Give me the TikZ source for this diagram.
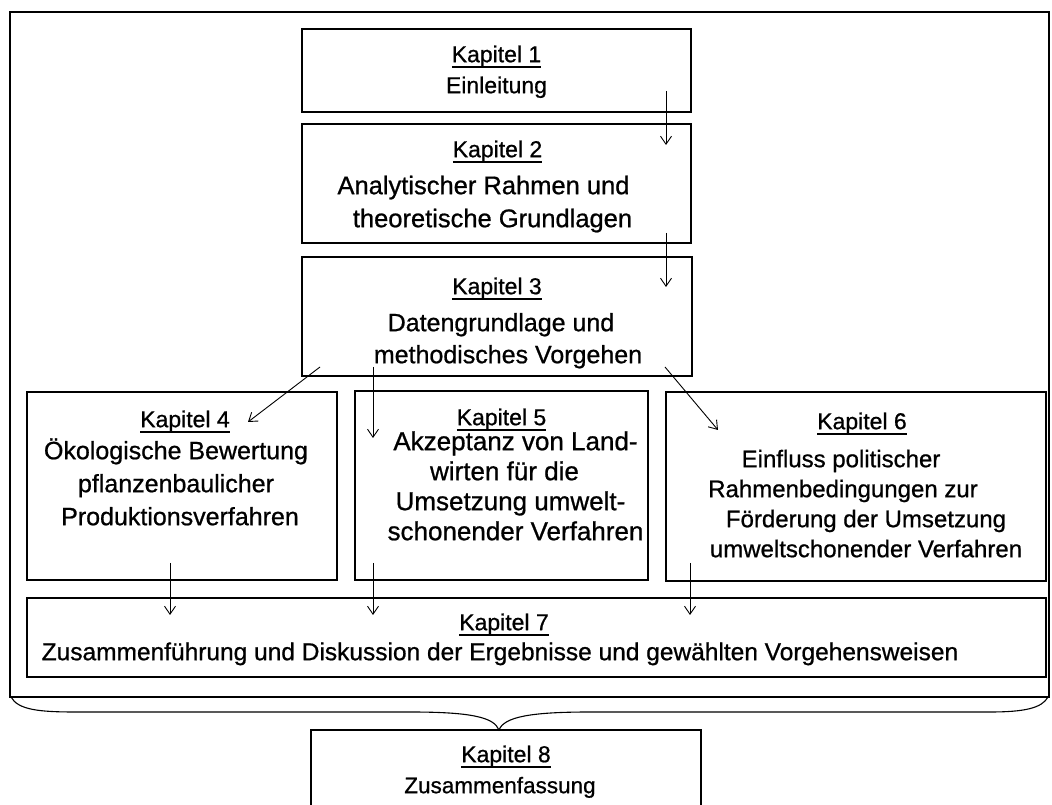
\documentclass[tikz,border=0pt]{standalone}
\usepackage{fontspec}
\setmainfont{Liberation Sans}[FakeBold=0.8]
\usetikzlibrary{arrows.meta}

% underlined chapter heading with a rule placed like a word-processor underline
\newsavebox\kapbox
\newcommand\kaphead[1]{{\fontsize{23}{23}\selectfont
  \sbox\kapbox{#1}\rlap{\rule[-5.5pt]{\wd\kapbox}{1.6pt}}\usebox\kapbox}}
% a line whose ink is moved sideways by #1 without changing its width
\newcommand\sline[2]{\hbox{\kern#1\relax\hbox{#2}\kern-#1\relax}}
% fixes the height of the first line so the node top is a known distance above its baseline
\newcommand\topstrut{\rule{0pt}{20pt}}

\tikzset{
  chapbox/.style={draw, line width=1.5pt, inner sep=0pt, outer sep=0pt, anchor=north west},
  chaptext/.style={anchor=north, inner sep=0pt, align=center},
  flow/.style={line width=0.9pt, -{Straight Barb[length=8pt,width=11pt,line width=0.9pt]}},
  frame/.style={draw, line width=1.5pt, inner sep=0pt, outer sep=0pt, anchor=north west},
}

\begin{document}
\begin{tikzpicture}[x=1pt,y=1pt]
\useasboundingbox (0,0) rectangle (1052,805);
\clip (0,0) rectangle (1052,805);

% outer frame around chapters 1 to 7
\node[frame, minimum width=1039pt, minimum height=685pt] (outer) at (10,793) {};

% chapter boxes
\node[chapbox, minimum width=389pt, minimum height=83pt]  (b1) at (302,776) {};
\node[chapbox, minimum width=389pt, minimum height=119pt] (b2) at (302,681) {};
\node[chapbox, minimum width=390pt, minimum height=119pt] (b3) at (302,548) {};
\node[chapbox, minimum width=310pt, minimum height=188pt] (b4) at (27,413) {};
\node[chapbox, minimum width=293pt, minimum height=189pt] (b5) at (355,414) {};
\node[chapbox, minimum width=380pt, minimum height=189pt] (b6) at (666,413) {};
\node[chapbox, minimum width=1019pt, minimum height=79pt] (b7) at (27,207) {};
\node[chapbox, minimum width=390pt, minimum height=140pt] (b8) at (311,75) {};

% chapter titles
\node[chaptext, font=\fontsize{23}{31}\selectfont] (t1) at ([yshift=-13pt]b1.north)
  {\topstrut\kaphead{Kapitel 1}\\Einleitung};
\node[chaptext, font=\fontsize{25.5}{33}\selectfont] (t2) at ([yshift=-13pt]b2.north)
  {\topstrut\sline{1pt}{\kaphead{Kapitel 2}}\\[4pt]
   \sline{-13pt}{Analytischer Rahmen und}\\
   \sline{-4pt}{theoretische Grundlagen}};
\node[chaptext, font=\fontsize{25}{32}\selectfont] (t3) at ([yshift=-17pt]b3.north)
  {\topstrut\kaphead{Kapitel 3}\\[5pt]
   \sline{4pt}{Datengrundlage und}\\
   \sline{11pt}{methodisches Vorgehen}};
\node[chaptext, font=\fontsize{25}{33}\selectfont] (t4) at ([yshift=-15pt]b4.north)
  {\topstrut\sline{3pt}{\kaphead{Kapitel 4}}\\[-1pt]
   \sline{-6pt}{Ökologische Bewertung}\\
   \sline{-6pt}{pflanzenbaulicher}\\
   \sline{-2pt}{Produktionsverfahren}};
\node[chaptext, font=\fontsize{26}{30}\selectfont] (t5) at ([yshift=-14pt]b5.north)
  {\topstrut\kaphead{Kapitel 5}\\[-5pt]
   \sline{14pt}{Akzeptanz von Land-}\\
   \sline{3pt}{wirten für die}\\
   \sline{9pt}{Umsetzung umwelt-}\\
   \sline{14pt}{schonender Verfahren}};
\node[chaptext, font=\fontsize{24}{30}\selectfont] (t6) at ([yshift=-17pt]b6.north)
  {\topstrut\sline{6pt}{\kaphead{Kapitel 6}}\\[8pt]
   \sline{-15pt}{Einfluss politischer}\\
   \sline{-13pt}{Rahmenbedingungen zur}\\
   \sline{10pt}{Förderung der Umsetzung}\\
   \sline{10pt}{umweltschonender Verfahren}};
\node[chaptext, font=\fontsize{24.5}{30}\selectfont] (t7) at ([yshift=-12pt]b7.north)
  {\topstrut\sline{-32.5pt}{\kaphead{Kapitel 7}}\\
   \sline{-36.5pt}{Zusammenführung und Diskussion der Ergebnisse und gewählten Vorgehensweisen}};
\node[chaptext, font=\fontsize{22.5}{31}\selectfont] (t8) at ([yshift=-12pt]b8.north)
  {\topstrut\kaphead{Kapitel 8}\\\sline{-6pt}{Zusammenfassung}};

% arrow end points inside the boxes
\coordinate (a12s) at ([shift={(-25,21)}]b1.south east);
\coordinate (a12e) at ([shift={(-25,-21)}]b2.north east);
\coordinate (a23s) at ([shift={(-25,10)}]b2.south east);
\coordinate (a23e) at ([shift={(-26,-30)}]b3.north east);
\coordinate (a34s) at ([shift={(18,9)}]b3.south west);
\coordinate (a34e) at ([shift={(221,-30)}]b4.north west);
\coordinate (a35s) at ([shift={(71,9)}]b3.south west);
\coordinate (a35e) at ([shift={(18,-47)}]b5.north west);
\coordinate (a36s) at ([shift={(-27,9)}]b3.south east);
\coordinate (a36e) at ([shift={(52,-38)}]b6.north west);
\coordinate (a47s) at ([shift={(143,17)}]b4.south west);
\coordinate (a47e) at ([shift={(143,-17)}]b7.north west);
\coordinate (a57s) at ([shift={(18,17)}]b5.south west);
\coordinate (a57e) at ([shift={(346,-17)}]b7.north west);
\coordinate (a67s) at ([shift={(24,18)}]b6.south west);
\coordinate (a67e) at ([shift={(663,-17)}]b7.north west);

\draw[flow] (a12s) -- (a12e);
\draw[flow] (a23s) -- (a23e);
\draw[flow] (a34s) -- (a34e);
\draw[flow] (a35s) -- (a35e);
\draw[flow] (a36s) -- (a36e);
\draw[flow] (a47s) -- (a47e);
\draw[flow] (a57s) -- (a57e);
\draw[flow] (a67s) -- (a67e);

% curly brace gathering everything into chapter 8
\coordinate (bracetip) at ([xshift=188pt]b8.north west);
\draw[line width=1.1pt] ([xshift=1pt]outer.south west)
  .. controls (18,95) and (40,93) .. (75,93)
  -- (410,93)
  .. controls (470,93) and (494,88) .. (bracetip)
  .. controls (504,88) and (530,93) .. (590,93)
  -- (990,93)
  .. controls (1025,93) and (1042,97) .. ([xshift=-1pt]outer.south east);
\end{tikzpicture}
\end{document}
